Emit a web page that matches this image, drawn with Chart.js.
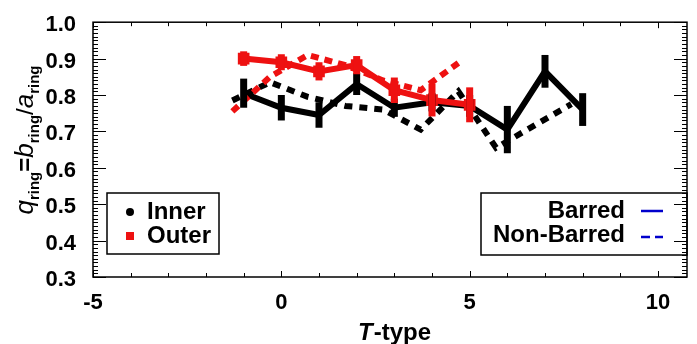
<!DOCTYPE html>
<html>
<head>
<meta charset="utf-8">
<script src="https://cdn.jsdelivr.net/npm/chart.js@4/dist/chart.umd.min.js"></script>
<style>
html,body{margin:0;padding:0;background:#fff;}
#wrap{width:697px;height:344px;position:relative;}
</style>
</head>
<body>
<div id="wrap"><canvas id="c" width="697" height="344"></canvas></div>
<script>
// ---- data ----
const tBarredInner = [-1, 0, 1, 2, 3, 4, 5, 6, 7, 8];
const innerBarred = [0.805, 0.765, 0.745, 0.83, 0.765, 0.78, 0.77, 0.705, 0.865, 0.76];
const innerBarredErr = [0.04, 0.035, 0.035, 0.03, 0.025, 0.025, 0.03, 0.065, 0.045, 0.045];

const tNonBarredInner = [-1, 0, 1, 2, 3, 4, 5, 6, 8];
const innerNonBarred = [0.785, 0.835, 0.795, 0.77, 0.76, 0.705, 0.81, 0.655, 0.775];

const tBarredOuter = [-1, 0, 1, 2, 3, 4, 5];
const outerBarred = [0.90, 0.89, 0.865, 0.882, 0.813, 0.786, 0.773];
const outerBarredErr = [0.02, 0.022, 0.025, 0.025, 0.035, 0.045, 0.048];

const tNonBarredOuter = [-1, 0, 1, 2, 3, 4, 5];
const outerNonBarred = [0.755, 0.85, 0.91, 0.882, 0.84, 0.813, 0.888];

const xTicks = [-5, 0, 5, 10];
const yTicks = [0.3, 0.4, 0.5, 0.6, 0.7, 0.8, 0.9, 1.0];
const legendRings = ['Inner', 'Outer'];
const legendBars = ['Barred', 'Non-Barred'];

// ---- styling ----
const NB_SHIFT = -0.3;     // non-barred points drawn slightly left
const FONT = "'Liberation Sans', Arial, Helvetica, sans-serif";
const RED = '#ee1111';
const BLUE = '#0000cc';

function pts(ts, vs, shift) { return ts.map((t, i) => ({x: t + shift, y: vs[i]})); }

const errorSets = [
  {ts: tBarredInner, vs: innerBarred, es: innerBarredErr, color: '#000'},
  {ts: tBarredOuter, vs: outerBarred, es: outerBarredErr, color: RED}
];

const errorPlugin = {
  id: 'errs',
  afterDatasetsDraw(chart) {
    const {ctx, scales: {x, y}} = chart;
    ctx.save();
    errorSets.forEach(s => {
      ctx.strokeStyle = s.color;
      ctx.lineWidth = 7;
      ctx.lineCap = 'butt';
      s.ts.forEach((t, i) => {
        const px = x.getPixelForValue(t);
        ctx.beginPath();
        ctx.moveTo(px, y.getPixelForValue(s.vs[i] - s.es[i]));
        ctx.lineTo(px, y.getPixelForValue(s.vs[i] + s.es[i]));
        ctx.stroke();
      });
    });
    ctx.restore();
  }
};

const framePlugin = {
  id: 'frame',
  afterDraw(chart) {
    const {ctx, chartArea: a, scales: {x, y}} = chart;
    ctx.save();
    ctx.strokeStyle = '#000';
    ctx.lineWidth = 1.5;
    ctx.strokeRect(a.left, a.top, a.right - a.left, a.bottom - a.top);
    ctx.lineWidth = 1;
    ctx.beginPath();
    for (let v = -5; v <= x.max + 1e-9; v += 1) {
      const px = Math.round(x.getPixelForValue(v)) + 0.5;
      const len = (v % 5 === 0) ? 6 : 4;
      ctx.moveTo(px, a.bottom); ctx.lineTo(px, a.bottom - len);
      ctx.moveTo(px, a.top); ctx.lineTo(px, a.top + len);
    }
    for (let k = 30; k <= 100; k++) {
      const py = Math.round(y.getPixelForValue(k / 100)) + 0.5;
      const len = (k % 10 === 0) ? 13 : 5;
      ctx.moveTo(a.left, py); ctx.lineTo(a.left + len, py);
      ctx.moveTo(a.right, py); ctx.lineTo(a.right - len, py);
    }
    ctx.stroke();

    // legends
    ctx.lineWidth = 1.5;
    ctx.strokeRect(107, 193, 112, 61);
    ctx.strokeRect(481, 193, 206, 62);
    ctx.font = 'bold 24px ' + FONT;
    ctx.textBaseline = 'middle';
    ctx.fillStyle = '#000';
    ctx.textAlign = 'left';
    ctx.fillText(legendRings[0], 147, 212);
    ctx.fillText(legendRings[1], 147, 236);
    ctx.beginPath(); ctx.arc(130, 212, 4, 0, Math.PI * 2); ctx.fill();
    ctx.fillStyle = RED; ctx.fillRect(126, 232, 8, 8);
    ctx.fillStyle = '#000';
    ctx.textAlign = 'right';
    ctx.fillText(legendBars[0], 625, 211);
    ctx.fillText(legendBars[1], 625, 235);
    ctx.strokeStyle = BLUE; ctx.lineWidth = 2.5;
    ctx.beginPath(); ctx.moveTo(641, 211); ctx.lineTo(663, 211); ctx.stroke();
    ctx.beginPath(); ctx.moveTo(641, 237); ctx.lineTo(650, 237);
    ctx.moveTo(655, 237); ctx.lineTo(663, 237); ctx.stroke();

    // x title: T-type
    ctx.fillStyle = '#000';
    ctx.textBaseline = 'alphabetic';
    ctx.textAlign = 'left';
    const ti = 'italic bold 24px ' + FONT, tb = 'bold 24px ' + FONT;
    ctx.font = ti; const wT = ctx.measureText('T').width;
    ctx.font = tb; const wR = ctx.measureText('-type').width;
    let sx = (a.left + a.right) / 2 + 4 - (wT + wR) / 2;
    ctx.font = ti; ctx.fillText('T', sx, 340);
    ctx.font = tb; ctx.fillText('-type', sx + wT + 1, 340);

    // y title: q_ring = b_ring / a_ring
    const parts = [
      ['q', 'italic 26px ' + FONT, 0], ['ring', 'bold 15px ' + FONT, 6],
      ['=', 'bold 24px ' + FONT, 0],
      ['b', 'italic 26px ' + FONT, 0], ['ring', 'bold 15px ' + FONT, 6],
      ['/', '24px ' + FONT, 0],
      ['a', 'italic 26px ' + FONT, 0], ['ring', 'bold 15px ' + FONT, 6]
    ];
    let total = 0;
    parts.forEach(p => { ctx.font = p[1]; p.push(ctx.measureText(p[0]).width); total += p[3]; });
    ctx.translate(33, 140);
    ctx.rotate(-Math.PI / 2);
    let cx = -total / 2;
    parts.forEach(p => { ctx.font = p[1]; ctx.fillText(p[0], cx, p[2]); cx += p[3]; });
    ctx.restore();
  }
};

new Chart(document.getElementById('c'), {
  type: 'line',
  data: {
    datasets: [
      {data: pts(tBarredOuter, outerBarred, 0), borderColor: RED, backgroundColor: RED, borderWidth: 6,
       pointStyle: 'rect', pointRadius: 4, tension: 0},
      {data: pts(tNonBarredOuter, outerNonBarred, NB_SHIFT), borderColor: RED, backgroundColor: RED, borderWidth: 6,
       borderDash: [8, 6], pointRadius: 0, tension: 0},
      {data: pts(tBarredInner, innerBarred, 0), borderColor: '#000', backgroundColor: '#000', borderWidth: 6,
       pointRadius: 0, tension: 0},
      {data: pts(tNonBarredInner, innerNonBarred, NB_SHIFT), borderColor: '#000', backgroundColor: '#000', borderWidth: 6,
       borderDash: [8, 7], pointRadius: 0, tension: 0}
    ]
  },
  options: {
    responsive: false,
    animation: false,
    layout: {padding: {top: 15, right: 7, left: 0, bottom: 0}},
    plugins: {legend: {display: false}, tooltip: {enabled: false}, title: {display: false}},
    scales: {
      x: {
        type: 'linear', min: -5, max: 10.77,
        afterFit: s => { s.height = 67; },
        afterBuildTicks: s => { s.ticks = xTicks.map(v => ({value: v})); },
        grid: {display: false}, border: {display: false},
        ticks: {color: '#000', font: {family: FONT, size: 22, weight: 'bold'}, padding: 5, maxRotation: 0,
                callback: v => String(v)}
      },
      y: {
        type: 'linear', min: 0.3, max: 1.0,
        afterFit: s => { s.width = 93; },
        afterBuildTicks: s => { s.ticks = yTicks.map(v => ({value: v})); },
        grid: {display: false}, border: {display: false},
        ticks: {color: '#000', font: {family: FONT, size: 22, weight: 'bold'}, padding: 9, labelOffset: 3,
                callback: v => Number(v).toFixed(1)}
      }
    }
  },
  plugins: [errorPlugin, framePlugin]
});
</script>
</body>
</html>
